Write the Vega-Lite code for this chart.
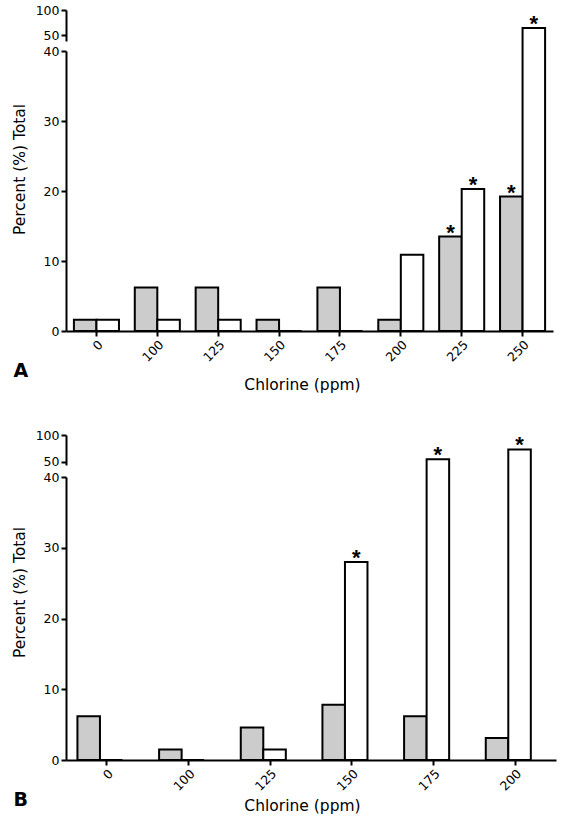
{
  "$schema": "https://vega.github.io/schema/vega-lite/v6.json",
  "datasets": {
    "a": [
      {"ppm": "0", "series": "h", "value": 1.6, "sig": ""},
      {"ppm": "0", "series": "w", "value": 1.6, "sig": ""},
      {"ppm": "100", "series": "h", "value": 6.2, "sig": ""},
      {"ppm": "100", "series": "w", "value": 1.6, "sig": ""},
      {"ppm": "125", "series": "h", "value": 6.2, "sig": ""},
      {"ppm": "125", "series": "w", "value": 1.6, "sig": ""},
      {"ppm": "150", "series": "h", "value": 1.6, "sig": ""},
      {"ppm": "150", "series": "w", "value": 0, "sig": ""},
      {"ppm": "175", "series": "h", "value": 6.2, "sig": ""},
      {"ppm": "175", "series": "w", "value": 0, "sig": ""},
      {"ppm": "200", "series": "h", "value": 1.6, "sig": ""},
      {"ppm": "200", "series": "w", "value": 10.9, "sig": ""},
      {"ppm": "225", "series": "h", "value": 13.5, "sig": "*"},
      {"ppm": "225", "series": "w", "value": 20.3, "sig": "*"},
      {"ppm": "250", "series": "h", "value": 19.2, "sig": "*"},
      {"ppm": "250", "series": "w", "value": 64, "sig": "*"}
    ],
    "b": [
      {"ppm": "0", "series": "h", "value": 6.2, "sig": ""},
      {"ppm": "0", "series": "w", "value": 0, "sig": ""},
      {"ppm": "100", "series": "h", "value": 1.5, "sig": ""},
      {"ppm": "100", "series": "w", "value": 0, "sig": ""},
      {"ppm": "125", "series": "h", "value": 4.6, "sig": ""},
      {"ppm": "125", "series": "w", "value": 1.5, "sig": ""},
      {"ppm": "150", "series": "h", "value": 7.8, "sig": ""},
      {"ppm": "150", "series": "w", "value": 28.0, "sig": "*"},
      {"ppm": "175", "series": "h", "value": 6.2, "sig": ""},
      {"ppm": "175", "series": "w", "value": 54.5, "sig": "*"},
      {"ppm": "200", "series": "h", "value": 3.1, "sig": ""},
      {"ppm": "200", "series": "w", "value": 73, "sig": "*"}
    ]
  },
  "padding": {"top": 4, "left": 12, "right": 4, "bottom": 14},
  "width": 490,
  "height": 750,
  "config": {
    "font": "DejaVu Sans",
    "view": {"stroke": null},
    "axis": {
      "domainColor": "black", "domainWidth": 2,
      "tickColor": "black", "tickWidth": 2, "tickSize": 5,
      "labelColor": "black", "labelFontSize": 12.5, "labelPadding": 2,
      "titleFontSize": 15.5, "titleFontWeight": "normal", "titleColor": "black",
      "grid": false
    },
    "bar": {"stroke": "black", "strokeWidth": 2}
  },
  "layer": [
    {
      "data": {"name": "a"},
      "mark": {"type": "bar"},
      "encoding": {
        "x": {"field": "ppm", "type": "nominal", "scale": {"domain": ["0", "100", "125", "150", "175", "200", "225", "250"], "range": [0, 487], "paddingInner": 0.26, "paddingOuter": 0.13}, "axis": {"orient": "bottom", "offset": -429, "labelAngle": -45, "title": "Chlorine (ppm)", "titlePadding": 14, "titleX": 236}},
        "xOffset": {"field": "series", "scale": {"domain": ["h", "w"]}},
        "y": {"field": "value", "type": "quantitative", "scale": {"domain": [0, 40, 50, 100], "range": [321, 41, 25, 0], "nice": false, "zero": false}, "axis": null},
        "fill": {"field": "series", "scale": {"domain": ["h", "w"], "range": ["#cccccc", "#ffffff"]}, "legend": null}
      }
    },
    {
      "data": {"name": "a"},
      "mark": {"type": "text", "font": "Liberation Sans", "fontSize": 22, "fontWeight": "bold", "baseline": "alphabetic", "dy": 3, "color": "black"},
      "encoding": {
        "x": {"field": "ppm", "type": "nominal", "scale": {"domain": ["0", "100", "125", "150", "175", "200", "225", "250"], "range": [0, 487], "paddingInner": 0.26, "paddingOuter": 0.13}, "axis": null},
        "xOffset": {"field": "series", "scale": {"domain": ["h", "w"]}},
        "y": {"field": "value", "type": "quantitative", "scale": {"domain": [0, 40, 50, 100], "range": [321, 41, 25, 0], "nice": false, "zero": false}, "axis": null},
        "text": {"field": "sig"}
      }
    },
    {
      "data": {"name": "a"},
      "mark": {"type": "rule", "opacity": 0},
      "encoding": {
        "y": {"field": "value", "type": "quantitative", "scale": {"domain": [0, 40], "range": [321, 41], "nice": false, "clamp": true}, "axis": {"orient": "left", "values": [0, 10, 20, 30, 40], "title": "Percent (%) Total", "titlePadding": 16, "titleY": 159}}
      }
    },
    {
      "data": {"name": "a"},
      "mark": {"type": "rule", "opacity": 0},
      "encoding": {
        "y": {"field": "value", "type": "quantitative", "scale": {"domain": [38, 100], "range": [31, 0], "nice": false, "zero": false, "clamp": true}, "axis": {"orient": "left", "values": [50, 100], "title": null}}
      }
    },
    {
      "data": {"name": "a"},
      "mark": {"type": "rule", "opacity": 0},
      "encoding": {
        "y": {"field": "value", "type": "quantitative", "scale": {"domain": [0, 100], "range": [321, 0], "nice": false, "clamp": true}, "axis": {"orient": "left", "domain": false, "ticks": false, "labels": false, "title": "A", "titleAngle": 0, "titleX": -53, "titleY": 366, "titleAlign": "left", "titleBaseline": "alphabetic", "titleFontSize": 19, "titleFontWeight": "bold"}}
      }
    },
    {
      "data": {"name": "b"},
      "mark": {"type": "bar"},
      "encoding": {
        "x": {"field": "ppm", "type": "nominal", "scale": {"domain": ["0", "100", "125", "150", "175", "200"], "range": [0, 490], "paddingInner": 0.28, "paddingOuter": 0.14}, "axis": {"orient": "bottom", "labelAngle": -45, "title": "Chlorine (ppm)", "titlePadding": 6, "titleX": 236}},
        "xOffset": {"field": "series", "scale": {"domain": ["h", "w"]}},
        "y": {"field": "value", "type": "quantitative", "scale": {"domain": [0, 40, 50, 100], "range": [750, 467, 451.7, 425], "nice": false, "zero": false}, "axis": null},
        "fill": {"field": "series", "scale": {"domain": ["h", "w"], "range": ["#cccccc", "#ffffff"]}, "legend": null}
      }
    },
    {
      "data": {"name": "b"},
      "mark": {"type": "text", "font": "Liberation Sans", "fontSize": 22, "fontWeight": "bold", "baseline": "alphabetic", "dy": 3, "color": "black"},
      "encoding": {
        "x": {"field": "ppm", "type": "nominal", "scale": {"domain": ["0", "100", "125", "150", "175", "200"], "range": [0, 490], "paddingInner": 0.28, "paddingOuter": 0.14}, "axis": null},
        "xOffset": {"field": "series", "scale": {"domain": ["h", "w"]}},
        "y": {"field": "value", "type": "quantitative", "scale": {"domain": [0, 40, 50, 100], "range": [750, 467, 451.7, 425], "nice": false, "zero": false}, "axis": null},
        "text": {"field": "sig"}
      }
    },
    {
      "data": {"name": "b"},
      "mark": {"type": "rule", "opacity": 0},
      "encoding": {
        "y": {"field": "value", "type": "quantitative", "scale": {"domain": [0, 40], "range": [750, 467], "nice": false, "clamp": true}, "axis": {"orient": "left", "values": [0, 10, 20, 30, 40], "title": "Percent (%) Total", "titlePadding": 16, "titleY": 582}}
      }
    },
    {
      "data": {"name": "b"},
      "mark": {"type": "rule", "opacity": 0},
      "encoding": {
        "y": {"field": "value", "type": "quantitative", "scale": {"domain": [43.8, 100], "range": [455, 425], "nice": false, "zero": false, "clamp": true}, "axis": {"orient": "left", "values": [50, 100], "title": null}}
      }
    },
    {
      "data": {"name": "b"},
      "mark": {"type": "rule", "opacity": 0},
      "encoding": {
        "y": {"field": "value", "type": "quantitative", "scale": {"domain": [0, 100], "range": [750, 425], "nice": false, "clamp": true}, "axis": {"orient": "left", "domain": false, "ticks": false, "labels": false, "title": "B", "titleAngle": 0, "titleX": -53, "titleY": 795, "titleAlign": "left", "titleBaseline": "alphabetic", "titleFontSize": 19, "titleFontWeight": "bold"}}
      }
    }
  ],
  "resolve": {"scale": {"x": "independent", "y": "independent"}, "axis": {"x": "independent", "y": "independent"}}
}
